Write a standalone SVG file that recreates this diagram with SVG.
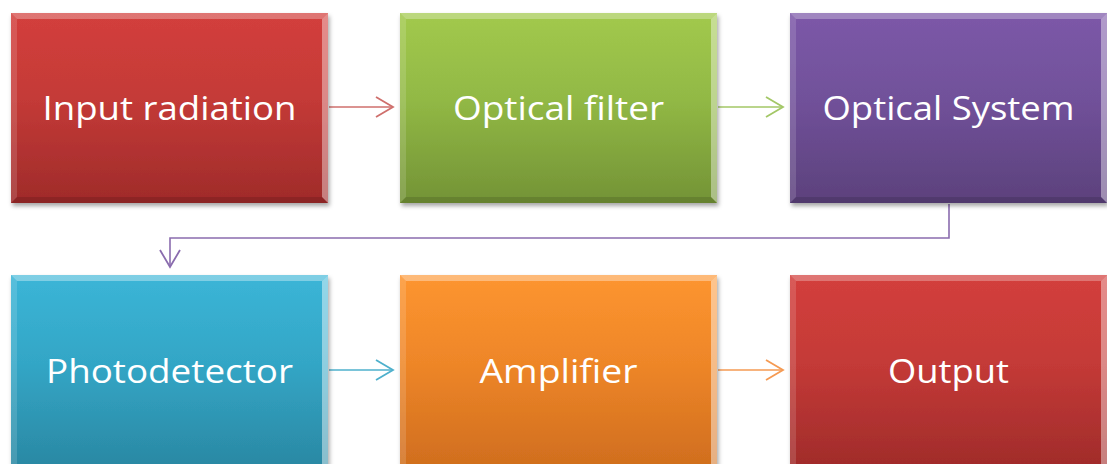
<svg xmlns="http://www.w3.org/2000/svg" width="1107" height="464" viewBox="0 0 1107 464">
  <style>
    .label { font-family: "Open Sans", "Liberation Sans", sans-serif; font-size: 33px; fill: #ffffff; text-anchor: middle; }
    .hi { fill: #ffffff; }
    .lo { fill: #000000; }
    .link { fill: none; stroke-width: 1.6; }
  </style>
  <defs>
    <filter id="shadow" x="-10%" y="-10%" width="125%" height="130%">
      <feDropShadow dx="1.5" dy="3" stdDeviation="2.2" flood-color="#000" flood-opacity="0.35"/>
    </filter>
    <linearGradient id="gRed" x1="0" y1="0" x2="0" y2="1">
      <stop offset="0" stop-color="#d33f3c"/>
      <stop offset="0.45" stop-color="#c43a37"/>
      <stop offset="1" stop-color="#9f2b2a"/>
    </linearGradient>
    <linearGradient id="gGreen" x1="0" y1="0" x2="0" y2="1">
      <stop offset="0" stop-color="#a2c94d"/>
      <stop offset="0.45" stop-color="#92b945"/>
      <stop offset="1" stop-color="#739336"/>
    </linearGradient>
    <linearGradient id="gPurple" x1="0" y1="0" x2="0" y2="1">
      <stop offset="0" stop-color="#7c58a8"/>
      <stop offset="0.45" stop-color="#71519a"/>
      <stop offset="1" stop-color="#5c417c"/>
    </linearGradient>
    <linearGradient id="gBlue" x1="0" y1="0" x2="0" y2="1">
      <stop offset="0" stop-color="#3bb5d7"/>
      <stop offset="0.45" stop-color="#33a6c6"/>
      <stop offset="1" stop-color="#2a87a2"/>
    </linearGradient>
    <linearGradient id="gOrange" x1="0" y1="0" x2="0" y2="1">
      <stop offset="0" stop-color="#fd9530"/>
      <stop offset="0.45" stop-color="#ee8628"/>
      <stop offset="1" stop-color="#cf6d1e"/>
    </linearGradient>
    <marker id="aRed" viewBox="0 0 20 22" refX="18" refY="11" markerWidth="20" markerHeight="22" markerUnits="userSpaceOnUse" orient="auto">
      <polyline points="1,1 18,11 1,21" fill="none" stroke="#cf6f6c" stroke-width="1.8"/>
    </marker>
    <marker id="aGreen" viewBox="0 0 20 22" refX="18" refY="11" markerWidth="20" markerHeight="22" markerUnits="userSpaceOnUse" orient="auto">
      <polyline points="1,1 18,11 1,21" fill="none" stroke="#a3c766" stroke-width="1.8"/>
    </marker>
    <marker id="aPurple" viewBox="0 0 20 22" refX="18" refY="11" markerWidth="20" markerHeight="22" markerUnits="userSpaceOnUse" orient="auto">
      <polyline points="1,1 18,11 1,21" fill="none" stroke="#8a6cae" stroke-width="1.8"/>
    </marker>
    <marker id="aBlue" viewBox="0 0 20 22" refX="18" refY="11" markerWidth="20" markerHeight="22" markerUnits="userSpaceOnUse" orient="auto">
      <polyline points="1,1 18,11 1,21" fill="none" stroke="#4eb0cc" stroke-width="1.8"/>
    </marker>
    <marker id="aOrange" viewBox="0 0 20 22" refX="18" refY="11" markerWidth="20" markerHeight="22" markerUnits="userSpaceOnUse" orient="auto">
      <polyline points="1,1 18,11 1,21" fill="none" stroke="#f59a52" stroke-width="1.8"/>
    </marker>
  </defs>

  <rect width="1107" height="464" fill="#ffffff"/>

  <!-- connectors -->
  <g id="connectors">
    <path class="link" d="M329,107 H393" stroke="#cf6f6c" marker-end="url(#aRed)"/>
    <path class="link" d="M718,107 H783" stroke="#a3c766" marker-end="url(#aGreen)"/>
    <path class="link" d="M949,204 V238 H170 V267" stroke="#8a6cae" marker-end="url(#aPurple)"/>
    <path class="link" d="M329,370 H393" stroke="#4eb0cc" marker-end="url(#aBlue)"/>
    <path class="link" d="M718,370 H783" stroke="#f59a52" marker-end="url(#aOrange)"/>
  </g>

  <!-- Input radiation -->
  <g id="node-input" transform="translate(11,13)">
    <g filter="url(#shadow)"><rect width="317" height="190" fill="url(#gRed)"/></g>
    <polygon class="hi" points="0,0 317,0 311,6 6,6" opacity="0.28"/>
    <polygon class="hi" points="0,0 6,6 6,184 0,190" opacity="0.14"/>
    <polygon class="hi" points="317,0 317,190 311,184 311,6" opacity="0.4"/>
    <polygon class="lo" points="0,190 6,184 311,184 317,190" opacity="0.12"/>
    <text class="label" x="158.5" y="107" textLength="254" lengthAdjust="spacingAndGlyphs">Input radiation</text>
  </g>

  <!-- Optical filter -->
  <g id="node-filter" transform="translate(400,13)">
    <g filter="url(#shadow)"><rect width="317" height="190" fill="url(#gGreen)"/></g>
    <polygon class="hi" points="0,0 317,0 311,6 6,6" opacity="0.28"/>
    <polygon class="hi" points="0,0 6,6 6,184 0,190" opacity="0.14"/>
    <polygon class="hi" points="317,0 317,190 311,184 311,6" opacity="0.4"/>
    <polygon class="lo" points="0,190 6,184 311,184 317,190" opacity="0.12"/>
    <text class="label" x="158.5" y="107" textLength="211" lengthAdjust="spacingAndGlyphs">Optical filter</text>
  </g>

  <!-- Optical System -->
  <g id="node-optics" transform="translate(790,13)">
    <g filter="url(#shadow)"><rect width="317" height="190" fill="url(#gPurple)"/></g>
    <polygon class="hi" points="0,0 317,0 311,6 6,6" opacity="0.28"/>
    <polygon class="hi" points="0,0 6,6 6,184 0,190" opacity="0.14"/>
    <polygon class="hi" points="317,0 317,190 311,184 311,6" opacity="0.4"/>
    <polygon class="lo" points="0,190 6,184 311,184 317,190" opacity="0.12"/>
    <text class="label" x="158.5" y="107" textLength="252" lengthAdjust="spacingAndGlyphs">Optical System</text>
  </g>

  <!-- Photodetector -->
  <g id="node-detector" transform="translate(11,275)">
    <g filter="url(#shadow)"><rect width="317" height="196" fill="url(#gBlue)"/></g>
    <polygon class="hi" points="0,0 317,0 311,6 6,6" opacity="0.35"/>
    <polygon class="hi" points="0,0 6,6 6,196 0,196" opacity="0.14"/>
    <polygon class="hi" points="317,0 317,196 311,196 311,6" opacity="0.45"/>
    <text class="label" x="158.5" y="108" textLength="247" lengthAdjust="spacingAndGlyphs">Photodetector</text>
  </g>

  <!-- Amplifier -->
  <g id="node-amplifier" transform="translate(400,275)">
    <g filter="url(#shadow)"><rect width="317" height="196" fill="url(#gOrange)"/></g>
    <polygon class="hi" points="0,0 317,0 311,6 6,6" opacity="0.35"/>
    <polygon class="hi" points="0,0 6,6 6,196 0,196" opacity="0.14"/>
    <polygon class="hi" points="317,0 317,196 311,196 311,6" opacity="0.45"/>
    <text class="label" x="158.5" y="108" textLength="158" lengthAdjust="spacingAndGlyphs">Amplifier</text>
  </g>

  <!-- Output -->
  <g id="node-output" transform="translate(790,275)">
    <g filter="url(#shadow)"><rect width="317" height="196" fill="url(#gRed)"/></g>
    <polygon class="hi" points="0,0 317,0 311,6 6,6" opacity="0.28"/>
    <polygon class="hi" points="0,0 6,6 6,196 0,196" opacity="0.14"/>
    <polygon class="hi" points="317,0 317,196 311,196 311,6" opacity="0.4"/>
    <text class="label" x="158.5" y="108" textLength="121" lengthAdjust="spacingAndGlyphs">Output</text>
  </g>
</svg>
